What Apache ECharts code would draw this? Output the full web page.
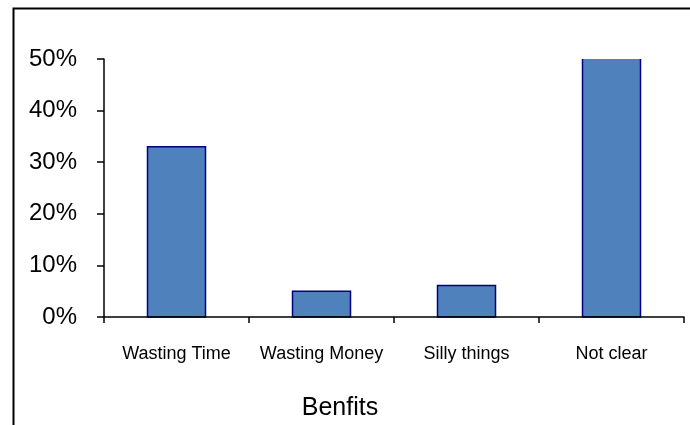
<!DOCTYPE html>
<html>
<head>
<meta charset="utf-8">
<script src="https://cdn.jsdelivr.net/npm/echarts@6/dist/echarts.min.js"></script>
<style>
html,body{margin:0;padding:0;background:#fff;}
#chart{width:690px;height:425px;}
</style>
</head>
<body>
<div id="chart"></div>
<script>
const categories = ['Wasting Time', 'Wasting Money', 'Silly things', 'Not clear'];
const values = [33, 5, 6.1, 56];
const yTicks = [0, 10, 20, 30, 40, 50];
const axisTitle = 'Benfits';

const chart = echarts.init(document.getElementById('chart'), null, {renderer: 'canvas'});
const FONT = '"Liberation Sans", Arial, sans-serif';
const FILL = '#4F81BD';
const EDGE = '#000080';

function renderBar(params, api) {
  const idx = api.value(0);
  const v = api.value(1);
  const base = api.coord([idx, 0]);
  const top = api.coord([idx, v]);
  const bw = api.size([1, 0])[0] * 0.4;
  const area = params.coordSys;
  const l = base[0] - bw / 2, r = base[0] + bw / 2;
  const clipped = top[1] < area.y;
  const t = clipped ? area.y : top[1];
  const children = [{
    type: 'rect',
    shape: {x: l, y: t, width: bw, height: base[1] - t},
    style: {fill: FILL, stroke: clipped ? null : EDGE, lineWidth: clipped ? 0 : 1.5}
  }];
  if (clipped) {
    children.push({type: 'polyline', shape: {points: [[l, t], [l, base[1]], [r, base[1]], [r, t]]},
      style: {fill: null, stroke: EDGE, lineWidth: 1.5}});
  }
  return {type: 'group', children: children};
}

chart.setOption({
  animation: false,
  backgroundColor: '#fff',
  graphic: [{
    type: 'rect', left: 11, top: 6, z: 10, silent: true,
    shape: {x: 0, y: 0, width: 700, height: 440},
    style: {fill: null, stroke: '#000', lineWidth: 2}
  }],
  grid: {left: 104, right: 6, top: 59, bottom: 108, containLabel: false, outerBoundsMode: 'none'},
  xAxis: {
    type: 'category',
    data: categories,
    z: 5,
    name: axisTitle,
    nameLocation: 'middle',
    nameGap: 79,
    nameTextStyle: {fontFamily: FONT, fontSize: 25, color: '#000', padding: [0, 108, 0, 0]},
    axisLine: {lineStyle: {color: '#000', width: 1.5}},
    axisTick: {show: true, inside: false, length: 6, lineStyle: {color: '#000', width: 1.5}},
    axisLabel: {fontFamily: FONT, fontSize: 18, color: '#000', margin: 28, interval: 0}
  },
  yAxis: {
    type: 'value',
    min: yTicks[0],
    max: yTicks[yTicks.length - 1],
    interval: 10,
    splitLine: {show: false},
    axisLine: {show: true, lineStyle: {color: '#000', width: 1.5}},
    axisTick: {show: true, length: 7, lineStyle: {color: '#000', width: 1.5}},
    axisLabel: {fontFamily: FONT, fontSize: 24, color: '#000', margin: 27, formatter: '{value}%'}
  },
  series: [{
    type: 'custom',
    renderItem: renderBar,
    encode: {x: 0, y: 1},
    data: values.map((v, i) => [i, v])
  }]
});
</script>
</body>
</html>
